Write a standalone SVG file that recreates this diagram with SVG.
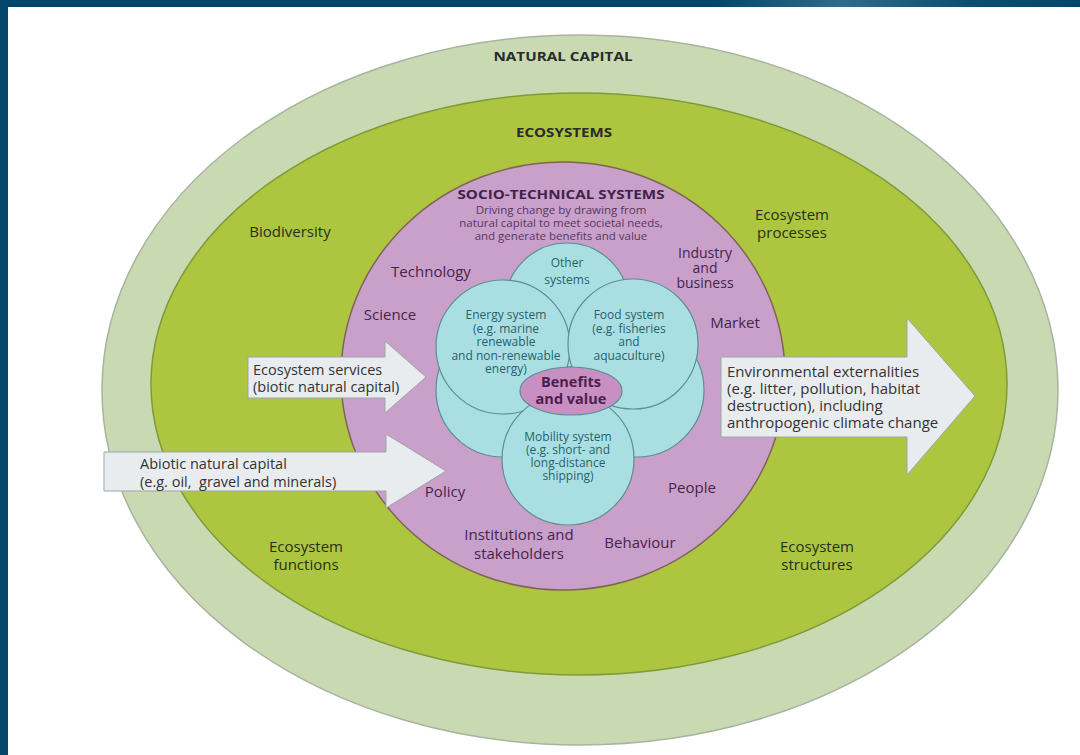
<svg xmlns="http://www.w3.org/2000/svg" width="1080" height="755" viewBox="0 0 1080 755">
  <defs>
    <linearGradient id="band" x1="0" y1="0" x2="1" y2="0">
      <stop offset="0" stop-color="#04466b"/>
      <stop offset="0.66" stop-color="#04466b"/>
      <stop offset="0.78" stop-color="#2f6b8c"/>
      <stop offset="0.9" stop-color="#0d4d71"/>
      <stop offset="1" stop-color="#04466b"/>
    </linearGradient>
    <style>
      text { font-family: "Open Sans", "Noto Sans", "Liberation Sans", sans-serif; }
      .hdr { font-weight: 700; font-size: 13px; fill: #2a2a2a; text-anchor: middle; }
      .lg { font-size: 15px; fill: #24321a; text-anchor: middle; }
      .lp { font-size: 15px; fill: #45244d; text-anchor: middle; }
      .lp2 { font-size: 14px; fill: #45244d; text-anchor: middle; }
      .ls { font-size: 11.5px; fill: #56385e; text-anchor: middle; }
      .lc { font-size: 12px; fill: #2a5f6b; text-anchor: middle; }
      .lb { font-size: 14.5px; font-weight: 700; fill: #4a1f4f; text-anchor: middle; }
      .la { font-size: 14.5px; fill: #333333; }
      .cyan { fill: #a9dfe3; stroke: #5d8e92; stroke-width: 1.2; }
      .arrow { fill: #e8ecef; stroke: #9ea5a8; stroke-width: 1; }
    </style>
  </defs>

  <rect x="0" y="0" width="1080" height="755" fill="#ffffff"/>
  <rect x="0" y="0" width="8" height="755" fill="#04466b"/>
  <rect x="0" y="0" width="1080" height="7" fill="url(#band)"/>

  <g id="natural-capital">
    <ellipse cx="580" cy="390" rx="478" ry="355" fill="#c9dab3" stroke="#a9b3a0" stroke-width="1.5"/>
    <text class="hdr" x="563" y="61" textLength="139" lengthAdjust="spacingAndGlyphs">NATURAL CAPITAL</text>
  </g>

  <g id="ecosystems">
    <ellipse cx="579" cy="384" rx="428" ry="291" fill="#aec540" stroke="#7f9a3a" stroke-width="1.5"/>
    <text class="hdr" x="564" y="137" textLength="96" lengthAdjust="spacingAndGlyphs">ECOSYSTEMS</text>
  </g>

  <g id="biodiversity"><text class="lg" x="290" y="237">Biodiversity</text></g>
  <g id="ecosystem-processes">
    <text class="lg" x="792" y="220">Ecosystem</text>
    <text class="lg" x="792" y="238">processes</text>
  </g>
  <g id="ecosystem-functions">
    <text class="lg" x="306" y="552">Ecosystem</text>
    <text class="lg" x="306" y="570">functions</text>
  </g>
  <g id="ecosystem-structures">
    <text class="lg" x="817" y="552">Ecosystem</text>
    <text class="lg" x="817" y="570">structures</text>
  </g>

  <g id="socio-technical-systems">
    <ellipse cx="563" cy="376" rx="222" ry="214" fill="#c9a0ca" stroke="#7d6456" stroke-width="1.5"/>
    <text class="hdr" x="561" y="199" textLength="207" lengthAdjust="spacingAndGlyphs" style="fill:#3f2347">SOCIO-TECHNICAL SYSTEMS</text>
    <text class="ls" x="561" y="214">Driving change by drawing from</text>
    <text class="ls" x="561" y="227">natural capital to meet societal needs,</text>
    <text class="ls" x="561" y="240">and generate benefits and value</text>
  </g>

  <g id="technology"><text class="lp" x="431" y="277">Technology</text></g>
  <g id="science"><text class="lp" x="390" y="320">Science</text></g>
  <g id="industry-and-business">
    <text class="lp2" x="705" y="258">Industry</text>
    <text class="lp2" x="705" y="273">and</text>
    <text class="lp2" x="705" y="288">business</text>
  </g>
  <g id="market"><text class="lp" x="735" y="328">Market</text></g>
  <g id="policy"><text class="lp" x="445" y="497">Policy</text></g>
  <g id="people"><text class="lp" x="692" y="493">People</text></g>
  <g id="institutions">
    <text class="lp" x="519" y="540">Institutions and</text>
    <text class="lp" x="519" y="559">stakeholders</text>
  </g>
  <g id="behaviour"><text class="lp" x="640" y="548">Behaviour</text></g>

  <g id="other-systems">
    <circle class="cyan" cx="567" cy="305" r="62"/>
    <text class="lc" x="567" y="267">Other</text>
    <text class="lc" x="567" y="284">systems</text>
  </g>
  <g id="lower-left-system">
    <circle class="cyan" cx="503" cy="390" r="67"/>
  </g>
  <g id="lower-right-system">
    <circle class="cyan" cx="637" cy="390" r="67"/>
  </g>
  <g id="energy-system">
    <circle class="cyan" cx="503" cy="347" r="67"/>
    <text class="lc" x="506" y="319">Energy system</text>
    <text class="lc" x="506" y="332.5">(e.g. marine</text>
    <text class="lc" x="506" y="346">renewable</text>
    <text class="lc" x="506" y="359.5">and non-renewable</text>
    <text class="lc" x="506" y="373">energy)</text>
  </g>
  <g id="food-system">
    <circle class="cyan" cx="633" cy="344" r="65"/>
    <text class="lc" x="629" y="319">Food system</text>
    <text class="lc" x="629" y="332.5">(e.g. fisheries</text>
    <text class="lc" x="629" y="346">and</text>
    <text class="lc" x="629" y="359.5">aquaculture)</text>
  </g>
  <g id="mobility-system">
    <circle class="cyan" cx="568" cy="459" r="66"/>
    <text class="lc" x="568" y="441">Mobility system</text>
    <text class="lc" x="568" y="454">(e.g. short- and</text>
    <text class="lc" x="568" y="467">long-distance</text>
    <text class="lc" x="568" y="480">shipping)</text>
  </g>
  <g id="benefits-and-value">
    <ellipse cx="571" cy="391" rx="51" ry="24" fill="#c88fc2" stroke="#5d8e92" stroke-width="1.2"/>
    <text class="lb" x="571" y="387">Benefits</text>
    <text class="lb" x="571" y="404">and value</text>
  </g>

  <g id="connectors">
    <g id="ecosystem-services">
      <polygon class="arrow" points="248,357 385,357 385,341 426,377 385,413 385,398 248,398"/>
      <text class="la" x="253" y="375">Ecosystem services</text>
      <text class="la" x="253" y="392">(biotic natural capital)</text>
    </g>
    <g id="abiotic-natural-capital">
      <polygon class="arrow" points="104,452 386,452 386,434 446,471 386,508 386,491 104,491"/>
      <text class="la" x="140" y="469">Abiotic natural capital</text>
      <text class="la" x="140" y="487" xml:space="preserve">(e.g. oil,  gravel and minerals)</text>
    </g>
    <g id="environmental-externalities">
      <polygon class="arrow" points="721,357 907,357 907,318 975,396 907,475 907,437 721,437"/>
      <text class="la" x="727" y="377" style="font-size:15px">Environmental externalities</text>
      <text class="la" x="727" y="394" style="font-size:15px">(e.g. litter, pollution, habitat</text>
      <text class="la" x="727" y="411" style="font-size:15px">destruction), including</text>
      <text class="la" x="727" y="428" style="font-size:15px">anthropogenic climate change</text>
    </g>
  </g>
</svg>
